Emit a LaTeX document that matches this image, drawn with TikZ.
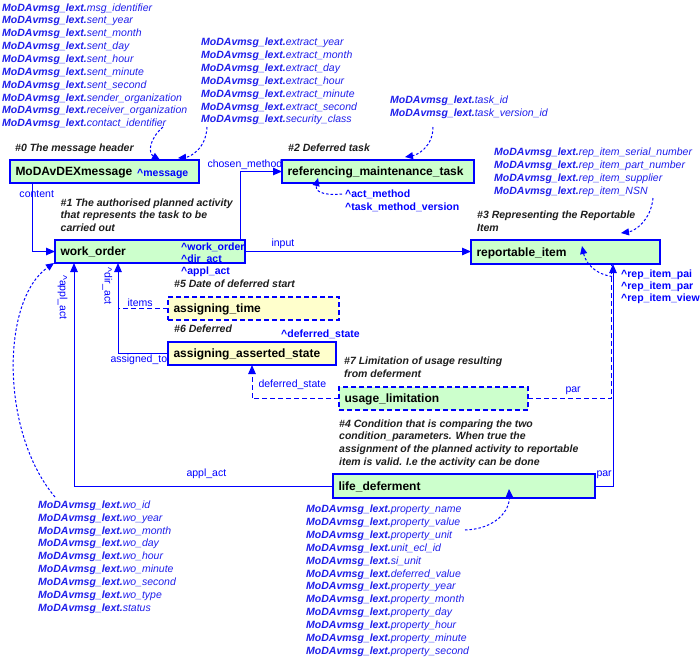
\documentclass[tikz,border=0pt]{standalone}
\usepackage{fontspec}
\setmainfont{Liberation Sans}
\usetikzlibrary{arrows.meta}
\definecolor{linkblue}{RGB}{0,0,255}
\definecolor{listblue}{RGB}{30,30,235}
\definecolor{entgreen}{RGB}{204,255,204}
\definecolor{entyellow}{RGB}{255,255,204}
\definecolor{notegray}{RGB}{30,30,30}
\newcommand{\lext}[1]{{\bfseries\itshape MoDAvmsg\_lext.}{\itshape #1}}
\newcommand{\rolemark}{\textasciicircum}
\tikzstyle{entity} = [rectangle, draw=linkblue, line width=1.3pt, fill=entgreen, minimum height=23pt, inner xsep=5.5pt, inner ysep=0pt, outer sep=0pt, anchor=north west, align=left, text height=9pt, text depth=1pt, font=\fontsize{12}{14}\selectfont\bfseries]
\tikzstyle{state} = [entity, fill=entyellow]
\tikzstyle{deferred} = [dash pattern=on 5pt off 3pt]
\tikzstyle{note} = [anchor=north west, inner sep=0pt, align=left, text=notegray, font=\fontsize{10.5}{12.6}\selectfont\bfseries\itshape]
\tikzstyle{role} = [anchor=north west, inner sep=0pt, align=left, text=linkblue, font=\fontsize{10.5}{12.2}\selectfont\bfseries]
\tikzstyle{attrs} = [anchor=north west, inner sep=0pt, align=left, text=listblue, font=\fontsize{10.5}{12.85}\selectfont]
\tikzstyle{lbl} = [anchor=base west, inner sep=0pt, text=linkblue, font=\fontsize{10.5}{12}\selectfont]
\tikzstyle{link} = [line width=1pt, draw=linkblue]
\tikzstyle{arrow} = [link, ->, >={Triangle[length=9pt,width=7.5pt]}]
\tikzstyle{reflink} = [link, ->, dash pattern=on 2.5pt off 2pt, >={Triangle[length=8pt,width=7pt]}]

\begin{document}
\begin{tikzpicture}[x=1pt, y=-1pt]
        \useasboundingbox (0,0) rectangle (700,657);
        % attribute lists
        \node (msglist) [attrs] at (2,3.3) {\lext{msg\_identifier}\\\lext{sent\_year}\\\lext{sent\_month}\\\lext{sent\_day}\\\lext{sent\_hour}\\\lext{sent\_minute}\\\lext{sent\_second}\\\lext{sender\_organization}\\\lext{receiver\_organization}\\\lext{contact\_identifier}};
        \node (extlist) [attrs] at (201,38) {\lext{extract\_year}\\\lext{extract\_month}\\\lext{extract\_day}\\\lext{extract\_hour}\\\lext{extract\_minute}\\\lext{extract\_second}\\\lext{security\_class}};
        \node (tasklist) [attrs] at (390,96) {\lext{task\_id}\\\lext{task\_version\_id}};
        \node (replist) [attrs] at (494,148) {\lext{rep\_item\_serial\_number}\\\lext{rep\_item\_part\_number}\\\lext{rep\_item\_supplier}\\\lext{rep\_item\_NSN}};
        \node (wolist) [attrs] at (38,500.5) {\lext{wo\_id}\\\lext{wo\_year}\\\lext{wo\_month}\\\lext{wo\_day}\\\lext{wo\_hour}\\\lext{wo\_minute}\\\lext{wo\_second}\\\lext{wo\_type}\\\lext{status}};
        \node (proplist) [attrs] at (306,505) {\lext{property\_name}\\\lext{property\_value}\\\lext{property\_unit}\\\lext{unit\_ecl\_id}\\\lext{si\_unit}\\\lext{deferred\_value}\\\lext{property\_year}\\\lext{property\_month}\\\lext{property\_day}\\\lext{property\_hour}\\\lext{property\_minute}\\\lext{property\_second}};
        % entities
        \node (msg) [entity, text width=178pt] at (10,160) {MoDAvDEXmessage};
        \node (rmt) [entity, text width=181pt] at (282,160) {referencing\_maintenance\_task};
        \node (wo) [entity, text width=179pt] at (55,240) {work\_order};
        \node (rep) [entity, text width=178pt, minimum height=24pt] at (471,240) {reportable\_item};
        \node (at) [state, deferred, text width=160pt] at (168,297) {assigning\_time};
        \node (aas) [state, text width=157pt] at (168,342) {assigning\_asserted\_state};
        \node (ul) [entity, deferred, text width=178pt] at (339,387) {usage\_limitation};
        \node (ld) [entity, text width=251pt, minimum height=24pt] at (333,474) {life\_deferment};
        % notes
        \node (n0) [note] at (15,143.5) {\#0 The message header};
        \node (n1) [note] at (60.5,198.5) {\#1 The authorised planned activity\\that represents the task to be\\carried out};
        \node (n2) [note] at (288,143.5) {\#2 Deferred task};
        \node (n3) [note] at (477,211) {\#3 Representing the Reportable\\Item};
        \node (n5) [note] at (174,280) {\#5 Date of deferred start};
        \node (n6) [note] at (174,324.5) {\#6 Deferred};
        \node (n7) [note] at (344,357) {\#7 Limitation of usage resulting\\from deferment};
        \node (n4) [note] at (339,419.5) {\#4 Condition that is comparing the two\\condition\_parameters. When true the\\assignment of the planned activity to reportable\\item is valid. I.e the activity can be done};
        % roles
        \node (msgrole) [role] at (137,169.5) {\rolemark message};
        \node (worole) [role] at (181,242.5) {\rolemark work\_order\\\rolemark dir\_act\\\rolemark appl\_act};
        \node (actrole) [role] at (345,190) {\rolemark act\_method\\\rolemark task\_method\_version};
        \node (defrole) [role] at (281,330) {\rolemark deferred\_state};
        \node (reprole) [role] at (621,269.5) {\rolemark rep\_item\_pai\\\rolemark rep\_item\_par\\\rolemark rep\_item\_view};
        \coordinate (dirx) at ([xshift=63pt]wo.south west);
        \coordinate (applx) at ([xshift=19pt]wo.south west);
        \coordinate (parx) at ([xshift=142pt]rep.south west);
        % connectors
        \draw [arrow] ([xshift=22pt]msg.south west) |- (wo.west) node[lbl] at (19,197.5) {content};
        \draw [arrow] ([xshift=-5pt]wo.north east) |- (rmt.west) node[lbl] at (207,167.5) {chosen\_method};
        \draw [arrow] (wo.east) -- (wo.east -| rep.west) node[lbl] at (271,246.5) {input};
        \draw [arrow] (ld.west) -| (applx) node[lbl] at (186,476.5) {appl\_act};
        \draw [arrow] (aas.west) -| (dirx) node[lbl] at (110,362.5) {assigned\_to};
        \draw [link, deferred] (at.west) -- (at.west -| dirx) node[lbl] at (127,306.5) {items};
        \draw [arrow, deferred] (ul.west) -| ([xshift=84pt]aas.south west) node[lbl] at (258,387) {deferred\_state};
        \draw [link, deferred] (ul.east) -| ([xshift=-1.5pt]parx) node[lbl] at (565,392) {par};
        \draw [arrow] (ld.east) -| (parx) node[lbl] at (596,476) {par};
        \node (applrole) [lbl, anchor=center, rotate=-90] at (62.5,297.5) {\rolemark appl\_act};
        \node (dirrole) [lbl, anchor=center, rotate=-90] at (107.5,286) {\rolemark dir\_act};
        % references to the attribute lists
        \draw [reflink] ([shift={(161,123.7)}]msglist.north west) .. controls +(-14,12) and +(-12,-7) .. ([xshift=150pt]msg.north west);
        \draw [reflink] ([shift={(6,89)}]extlist.north west) .. controls +(-1,22) and +(12,-1) .. ([shift={(168,-2)}]msg.north west);
        \draw [reflink] ([shift={(43,31)}]tasklist.north west) .. controls +(0,20) and +(12,-2) .. ([shift={(123,-3)}]rmt.north west);
        \draw [reflink] ([shift={(-3,4)}]actrole.north west) .. controls +(-22,2) and +(-3,12) .. ([shift={(36,18)}]rmt.north west);
        \draw [reflink] ([shift={(159,50)}]replist.north west) .. controls +(-2,22) and +(14,-2) .. ([shift={(150,-7)}]rep.north west);
        \draw [reflink] ([shift={(-9,7)}]reprole.north west) .. controls +(-20,-3) and +(3,14) .. ([shift={(111,6)}]rep.north west);
        \draw [reflink] ([shift={(17,-3.5)}]wolist.north west) .. controls +(-55,-65) and +(-53,37) .. ([xshift=-1pt]wo.south west);
        \draw [reflink] ([shift={(159,25)}]proplist.north west) .. controls +(30,-1) and +(1,22) .. ([shift={(176,15)}]ld.north west);
      \end{tikzpicture}
\end{document}
